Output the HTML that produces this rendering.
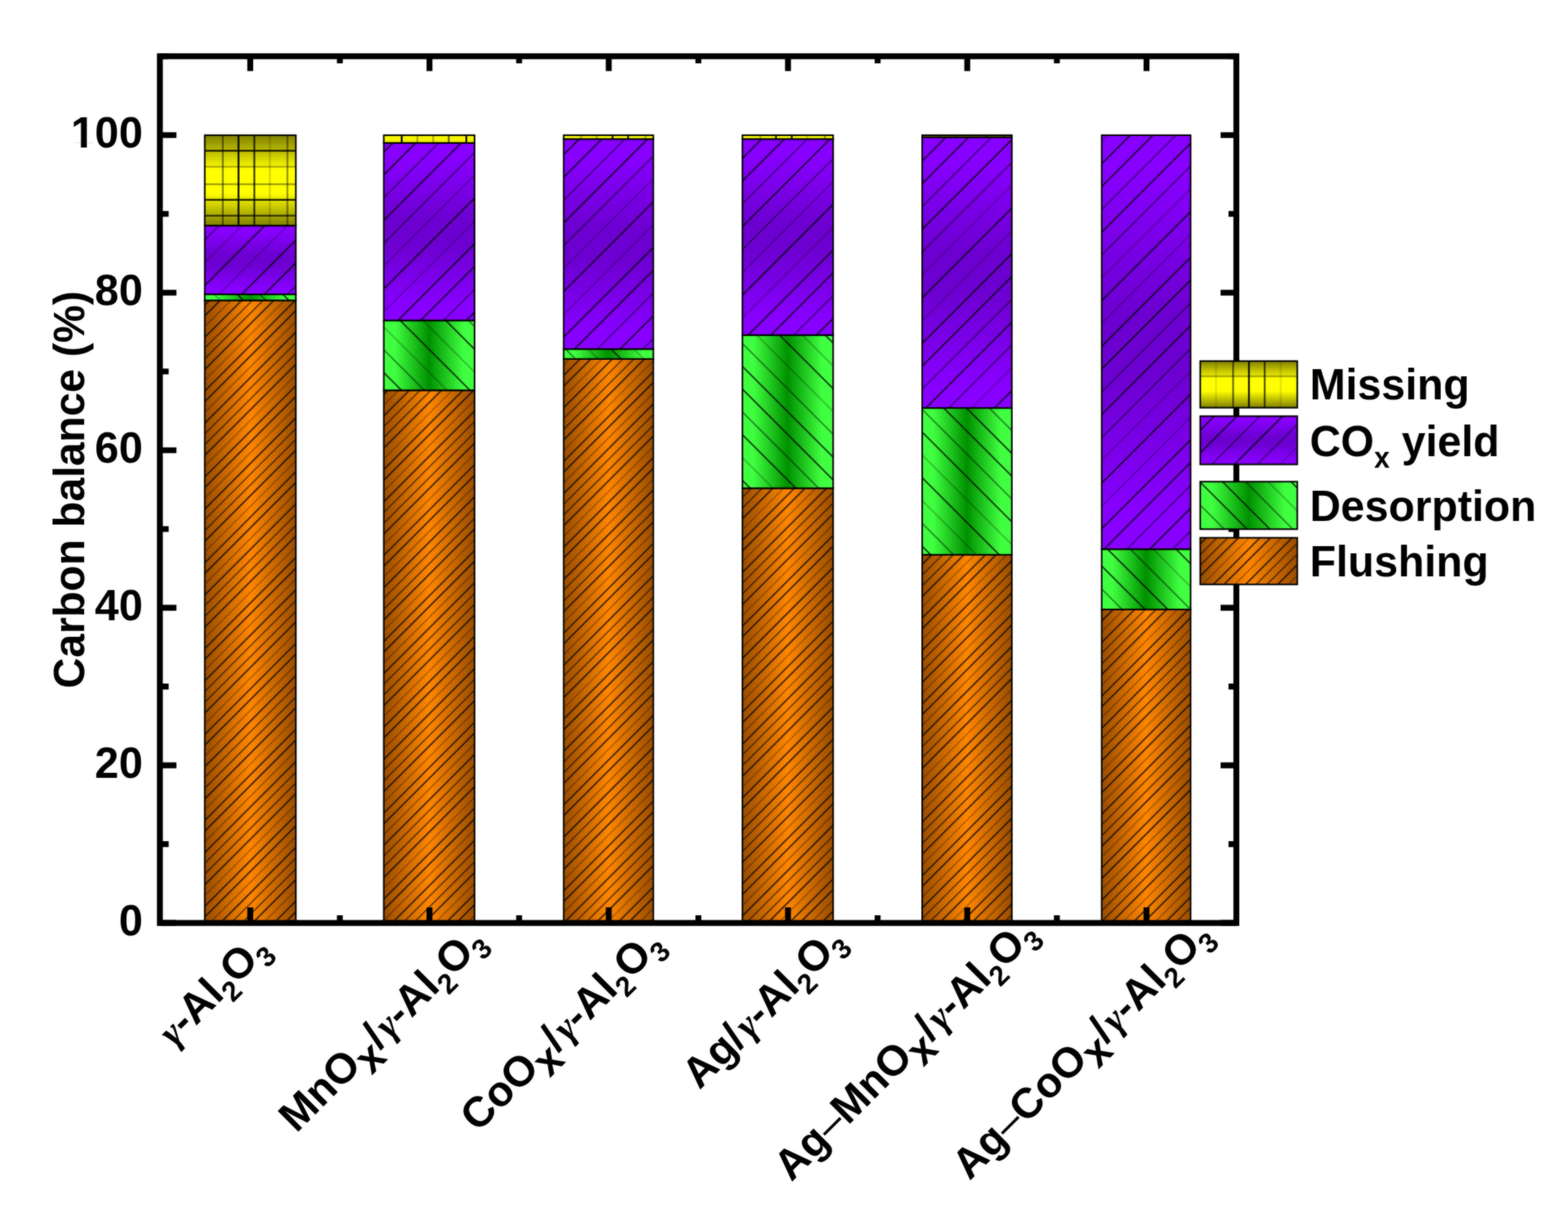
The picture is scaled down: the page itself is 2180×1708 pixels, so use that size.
<!DOCTYPE html>
<html lang="en"><head><meta charset="utf-8"><title>Carbon balance</title>
<style>html,body{margin:0;padding:0;background:#fff}body{width:2180px;height:1708px}svg{display:block}text{font-family:"Liberation Sans",sans-serif;font-weight:bold;fill:#000}.g{font-family:"Liberation Serif",serif;font-weight:bold;font-style:italic}.r{font-weight:normal}</style></head><body>
<svg width="2180" height="1708" viewBox="0 0 2180 1708">
<defs>
<filter id="soft" filterUnits="userSpaceOnUse" x="0" y="0" width="2180" height="1708" color-interpolation-filters="sRGB"><feGaussianBlur stdDeviation="0.9" result="b"/><feComposite in="b" in2="SourceGraphic" operator="arithmetic" k1="0" k2="0.50" k3="0.50" k4="0"/></filter>
<linearGradient id="gO" x1="0" y1="0" x2="1" y2="0"><stop offset="0" stop-color="#9a4d00"/><stop offset="0.5" stop-color="#ff8600"/><stop offset="1" stop-color="#9a4d00"/></linearGradient>
<linearGradient id="gG" x1="0" y1="0" x2="1" y2="0"><stop offset="0" stop-color="#40ff40"/><stop offset="0.12" stop-color="#40ff40"/><stop offset="0.5" stop-color="#009000"/><stop offset="0.88" stop-color="#40ff40"/><stop offset="1" stop-color="#40ff40"/></linearGradient>
<linearGradient id="gP" x1="0" y1="0" x2="0" y2="1"><stop offset="0" stop-color="#8800ff"/><stop offset="0.08" stop-color="#8800ff"/><stop offset="0.43" stop-color="#6c00d0"/><stop offset="0.57" stop-color="#6c00d0"/><stop offset="0.92" stop-color="#8800ff"/><stop offset="1" stop-color="#8800ff"/></linearGradient>
<linearGradient id="gY" x1="0" y1="0" x2="0" y2="1"><stop offset="0" stop-color="#808000"/><stop offset="0.38" stop-color="#ffff00"/><stop offset="0.64" stop-color="#ffff00"/><stop offset="1" stop-color="#808000"/></linearGradient>
<pattern id="hO" patternUnits="userSpaceOnUse" width="40" height="84.400" patternTransform="rotate(-45)"><rect x="0" y="4.400" width="40" height="1.75" fill="#000" fill-opacity="0.90"/><rect x="0" y="14.950" width="40" height="1.75" fill="#000" fill-opacity="0.35"/><rect x="0" y="25.500" width="40" height="1.75" fill="#000" fill-opacity="0.90"/><rect x="0" y="36.050" width="40" height="1.75" fill="#000" fill-opacity="0.60"/><rect x="0" y="46.600" width="40" height="1.75" fill="#000" fill-opacity="0.65"/><rect x="0" y="57.150" width="40" height="1.75" fill="#000" fill-opacity="0.90"/><rect x="0" y="67.700" width="40" height="1.75" fill="#000" fill-opacity="0.30"/><rect x="0" y="78.250" width="40" height="1.75" fill="#000" fill-opacity="0.85"/></pattern>
<pattern id="hP" patternUnits="userSpaceOnUse" width="40" height="179.322" patternTransform="rotate(-45)"><rect x="0" y="10.333" width="40" height="1.75" fill="#000" fill-opacity="0.90"/><rect x="0" y="32.748" width="40" height="1.75" fill="#000" fill-opacity="0.55"/><rect x="0" y="55.163" width="40" height="1.75" fill="#000" fill-opacity="0.90"/><rect x="0" y="77.578" width="40" height="1.75" fill="#000" fill-opacity="0.55"/><rect x="0" y="99.994" width="40" height="1.75" fill="#000" fill-opacity="0.30"/><rect x="0" y="122.409" width="40" height="1.75" fill="#000" fill-opacity="0.90"/><rect x="0" y="144.824" width="40" height="1.75" fill="#000" fill-opacity="0.30"/><rect x="0" y="167.240" width="40" height="1.75" fill="#000" fill-opacity="0.90"/></pattern>
<pattern id="hG" patternUnits="userSpaceOnUse" width="40" height="179.322" patternTransform="rotate(45)"><rect x="0" y="10.333" width="40" height="1.75" fill="#000" fill-opacity="0.90"/><rect x="0" y="32.748" width="40" height="1.75" fill="#000" fill-opacity="0.55"/><rect x="0" y="55.163" width="40" height="1.75" fill="#000" fill-opacity="0.90"/><rect x="0" y="77.578" width="40" height="1.75" fill="#000" fill-opacity="0.30"/><rect x="0" y="99.994" width="40" height="1.75" fill="#000" fill-opacity="0.90"/><rect x="0" y="122.409" width="40" height="1.75" fill="#000" fill-opacity="0.30"/><rect x="0" y="144.824" width="40" height="1.75" fill="#000" fill-opacity="0.55"/><rect x="0" y="167.240" width="40" height="1.75" fill="#000" fill-opacity="0.90"/></pattern>
</defs>
<g filter="url(#soft)">
<rect width="2180" height="1708" fill="#fff"/>
<g id="bars">
<rect x="284.70" y="417.50" width="126.60" height="865.20" fill="url(#gO)"/><rect x="284.70" y="417.50" width="126.60" height="865.20" fill="url(#hO)"/><rect x="284.70" y="417.50" width="126.60" height="865.20" fill="none" stroke="#000" stroke-width="2.20"/>
<rect x="284.70" y="409.00" width="126.60" height="8.50" fill="url(#gG)"/><rect x="284.70" y="409.00" width="126.60" height="8.50" fill="url(#hG)"/><rect x="284.70" y="409.00" width="126.60" height="8.50" fill="none" stroke="#000" stroke-width="2.20"/>
<rect x="284.70" y="313.50" width="126.60" height="95.50" fill="url(#gP)"/><rect x="284.70" y="313.50" width="126.60" height="95.50" fill="url(#hP)"/><rect x="284.70" y="313.50" width="126.60" height="95.50" fill="none" stroke="#000" stroke-width="2.20"/>
<rect x="284.70" y="187.90" width="126.60" height="125.60" fill="url(#gY)"/><rect x="308.60" y="187.90" width="2.4" height="125.60" fill="#000" fill-opacity="0.50"/><rect x="330.40" y="187.90" width="2.4" height="125.60" fill="#000" fill-opacity="1.00"/><rect x="352.40" y="187.90" width="2.4" height="125.60" fill="#000" fill-opacity="0.80"/><rect x="374.00" y="187.90" width="2.4" height="125.60" fill="#000" fill-opacity="0.18"/><rect x="398.40" y="187.90" width="2.4" height="125.60" fill="#000" fill-opacity="0.45"/><rect x="284.70" y="208.30" width="126.60" height="2.4" fill="#000" fill-opacity="0.90"/><rect x="284.70" y="230.50" width="126.60" height="2.4" fill="#000" fill-opacity="0.30"/><rect x="284.70" y="254.80" width="126.60" height="2.4" fill="#000" fill-opacity="0.40"/><rect x="284.70" y="276.50" width="126.60" height="2.4" fill="#000" fill-opacity="0.90"/><rect x="284.70" y="298.60" width="126.60" height="2.4" fill="#000" fill-opacity="0.70"/><rect x="284.70" y="187.90" width="126.60" height="125.60" fill="none" stroke="#000" stroke-width="2.20"/>
<rect x="533.60" y="542.40" width="126.20" height="740.30" fill="url(#gO)"/><rect x="533.60" y="542.40" width="126.20" height="740.30" fill="url(#hO)"/><rect x="533.60" y="542.40" width="126.20" height="740.30" fill="none" stroke="#000" stroke-width="2.20"/>
<rect x="533.60" y="445.30" width="126.20" height="97.10" fill="url(#gG)"/><rect x="533.60" y="445.30" width="126.20" height="97.10" fill="url(#hG)"/><rect x="533.60" y="445.30" width="126.20" height="97.10" fill="none" stroke="#000" stroke-width="2.20"/>
<rect x="533.60" y="198.60" width="126.20" height="246.70" fill="url(#gP)"/><rect x="533.60" y="198.60" width="126.20" height="246.70" fill="url(#hP)"/><rect x="533.60" y="198.60" width="126.20" height="246.70" fill="none" stroke="#000" stroke-width="2.20"/>
<rect x="533.60" y="187.90" width="126.20" height="10.70" fill="#f4f400"/><rect x="557.30" y="187.90" width="2.4" height="10.70" fill="#000" fill-opacity="1.00"/><rect x="579.10" y="187.90" width="2.4" height="10.70" fill="#000" fill-opacity="0.30"/><rect x="601.10" y="187.90" width="2.4" height="10.70" fill="#000" fill-opacity="0.30"/><rect x="622.70" y="187.90" width="2.4" height="10.70" fill="#000" fill-opacity="0.60"/><rect x="647.10" y="187.90" width="2.4" height="10.70" fill="#000" fill-opacity="1.00"/><rect x="533.60" y="187.90" width="126.20" height="10.70" fill="none" stroke="#000" stroke-width="2.20"/>
<rect x="783.70" y="498.90" width="124.60" height="783.80" fill="url(#gO)"/><rect x="783.70" y="498.90" width="124.60" height="783.80" fill="url(#hO)"/><rect x="783.70" y="498.90" width="124.60" height="783.80" fill="none" stroke="#000" stroke-width="2.20"/>
<rect x="783.70" y="485.10" width="124.60" height="13.80" fill="url(#gG)"/><rect x="783.70" y="485.10" width="124.60" height="13.80" fill="url(#hG)"/><rect x="783.70" y="485.10" width="124.60" height="13.80" fill="none" stroke="#000" stroke-width="2.20"/>
<rect x="783.70" y="193.20" width="124.60" height="291.90" fill="url(#gP)"/><rect x="783.70" y="193.20" width="124.60" height="291.90" fill="url(#hP)"/><rect x="783.70" y="193.20" width="124.60" height="291.90" fill="none" stroke="#000" stroke-width="2.20"/>
<rect x="783.70" y="187.90" width="124.60" height="5.30" fill="#f4f400"/><rect x="806.60" y="187.90" width="2.4" height="5.30" fill="#000" fill-opacity="0.30"/><rect x="828.40" y="187.90" width="2.4" height="5.30" fill="#000" fill-opacity="0.30"/><rect x="850.40" y="187.90" width="2.4" height="5.30" fill="#000" fill-opacity="0.90"/><rect x="872.00" y="187.90" width="2.4" height="5.30" fill="#000" fill-opacity="0.90"/><rect x="896.40" y="187.90" width="2.4" height="5.30" fill="#000" fill-opacity="0.30"/><rect x="783.70" y="187.90" width="124.60" height="5.30" fill="none" stroke="#000" stroke-width="2.20"/>
<rect x="1032.20" y="678.50" width="126.10" height="604.20" fill="url(#gO)"/><rect x="1032.20" y="678.50" width="126.10" height="604.20" fill="url(#hO)"/><rect x="1032.20" y="678.50" width="126.10" height="604.20" fill="none" stroke="#000" stroke-width="2.20"/>
<rect x="1032.20" y="465.70" width="126.10" height="212.80" fill="url(#gG)"/><rect x="1032.20" y="465.70" width="126.10" height="212.80" fill="url(#hG)"/><rect x="1032.20" y="465.70" width="126.10" height="212.80" fill="none" stroke="#000" stroke-width="2.20"/>
<rect x="1032.20" y="193.20" width="126.10" height="272.50" fill="url(#gP)"/><rect x="1032.20" y="193.20" width="126.10" height="272.50" fill="url(#hP)"/><rect x="1032.20" y="193.20" width="126.10" height="272.50" fill="none" stroke="#000" stroke-width="2.20"/>
<rect x="1032.20" y="187.90" width="126.10" height="5.30" fill="#f4f400"/><rect x="1055.85" y="187.90" width="2.4" height="5.30" fill="#000" fill-opacity="0.30"/><rect x="1077.65" y="187.90" width="2.4" height="5.30" fill="#000" fill-opacity="0.90"/><rect x="1099.65" y="187.90" width="2.4" height="5.30" fill="#000" fill-opacity="0.90"/><rect x="1121.25" y="187.90" width="2.4" height="5.30" fill="#000" fill-opacity="0.20"/><rect x="1145.65" y="187.90" width="2.4" height="5.30" fill="#000" fill-opacity="0.40"/><rect x="1032.20" y="187.90" width="126.10" height="5.30" fill="none" stroke="#000" stroke-width="2.20"/>
<rect x="1282.10" y="771.00" width="124.70" height="511.70" fill="url(#gO)"/><rect x="1282.10" y="771.00" width="124.70" height="511.70" fill="url(#hO)"/><rect x="1282.10" y="771.00" width="124.70" height="511.70" fill="none" stroke="#000" stroke-width="2.20"/>
<rect x="1282.10" y="567.00" width="124.70" height="204.00" fill="url(#gG)"/><rect x="1282.10" y="567.00" width="124.70" height="204.00" fill="url(#hG)"/><rect x="1282.10" y="567.00" width="124.70" height="204.00" fill="none" stroke="#000" stroke-width="2.20"/>
<rect x="1282.10" y="190.70" width="124.70" height="376.30" fill="url(#gP)"/><rect x="1282.10" y="190.70" width="124.70" height="376.30" fill="url(#hP)"/><rect x="1282.10" y="190.70" width="124.70" height="376.30" fill="none" stroke="#000" stroke-width="2.20"/>
<rect x="1282.10" y="187.90" width="124.70" height="2.80" fill="#a09800"/><rect x="1305.05" y="187.90" width="2.4" height="2.80" fill="#000" fill-opacity="0.50"/><rect x="1326.85" y="187.90" width="2.4" height="2.80" fill="#000" fill-opacity="0.50"/><rect x="1348.85" y="187.90" width="2.4" height="2.80" fill="#000" fill-opacity="0.20"/><rect x="1370.45" y="187.90" width="2.4" height="2.80" fill="#000" fill-opacity="0.70"/><rect x="1394.85" y="187.90" width="2.4" height="2.80" fill="#000" fill-opacity="0.70"/><rect x="1282.10" y="187.90" width="124.70" height="2.80" fill="none" stroke="#000" stroke-width="2.20"/>
<rect x="1531.70" y="847.00" width="123.60" height="435.70" fill="url(#gO)"/><rect x="1531.70" y="847.00" width="123.60" height="435.70" fill="url(#hO)"/><rect x="1531.70" y="847.00" width="123.60" height="435.70" fill="none" stroke="#000" stroke-width="2.20"/>
<rect x="1531.70" y="763.20" width="123.60" height="83.80" fill="url(#gG)"/><rect x="1531.70" y="763.20" width="123.60" height="83.80" fill="url(#hG)"/><rect x="1531.70" y="763.20" width="123.60" height="83.80" fill="none" stroke="#000" stroke-width="2.20"/>
<rect x="1531.70" y="187.90" width="123.60" height="575.30" fill="url(#gP)"/><rect x="1531.70" y="187.90" width="123.60" height="575.30" fill="url(#hP)"/><rect x="1531.70" y="187.90" width="123.60" height="575.30" fill="none" stroke="#000" stroke-width="2.20"/>
</g>
<g id="axes" fill="none" stroke="#000" stroke-width="8.20">
<rect x="222.30" y="78.20" width="1496.60" height="1204.50"/>
<path d="M222.30 1282.70h23.00M1718.90 1282.70h-21.90M222.30 1173.20h12.20M1718.90 1173.20h-10.90M222.30 1063.71h23.00M1718.90 1063.71h-21.90M222.30 954.22h12.20M1718.90 954.22h-10.90M222.30 844.72h23.00M1718.90 844.72h-21.90M222.30 735.23h12.20M1718.90 735.23h-10.90M222.30 625.73h23.00M1718.90 625.73h-21.90M222.30 516.24h12.20M1718.90 516.24h-10.90M222.30 406.74h23.00M1718.90 406.74h-21.90M222.30 297.25h12.20M1718.90 297.25h-10.90M222.30 187.75h23.00M1718.90 187.75h-21.90M222.30 78.25h12.20M1718.90 78.25h-10.90M347.90 1282.70v-21.70M347.90 78.20v20.50M472.51 1282.70v-10.60M472.51 78.20v9.90M597.12 1282.70v-21.70M597.12 78.20v20.50M721.73 1282.70v-10.60M721.73 78.20v9.90M846.34 1282.70v-21.70M846.34 78.20v20.50M970.95 1282.70v-10.60M970.95 78.20v9.90M1095.56 1282.70v-21.70M1095.56 78.20v20.50M1220.17 1282.70v-10.60M1220.17 78.20v9.90M1344.78 1282.70v-21.70M1344.78 78.20v20.50M1469.39 1282.70v-10.60M1469.39 78.20v9.90M1594.00 1282.70v-21.70M1594.00 78.20v20.50"/>
</g>
<g id="legend">
<rect x="1668.70" y="501.80" width="134.90" height="64.80" fill="url(#gY)"/><rect x="1689.50" y="501.80" width="2.4" height="64.80" fill="#000" fill-opacity="0.12"/><rect x="1713.20" y="501.80" width="2.4" height="64.80" fill="#000" fill-opacity="0.60"/><rect x="1735.20" y="501.80" width="2.4" height="64.80" fill="#000" fill-opacity="0.95"/><rect x="1757.10" y="501.80" width="2.4" height="64.80" fill="#000" fill-opacity="0.70"/><rect x="1779.40" y="501.80" width="2.4" height="64.80" fill="#000" fill-opacity="0.12"/><rect x="1668.70" y="521.70" width="134.90" height="2.4" fill="#000" fill-opacity="0.30"/><rect x="1668.70" y="501.80" width="134.90" height="64.80" fill="none" stroke="#000" stroke-width="2.20"/>
<text transform="translate(1821 554.6) scale(1 1.025)" font-size="59.7">Missing</text>
<rect x="1668.70" y="578.40" width="134.90" height="67.00" fill="url(#gP)"/><rect x="1668.70" y="578.40" width="134.90" height="67.00" fill="url(#hP)"/><rect x="1668.70" y="578.40" width="134.90" height="67.00" fill="none" stroke="#000" stroke-width="2.20"/>
<text transform="translate(1821 633.8) scale(1 1.025)" font-size="59.7">CO<tspan font-size="39" dy="16">x</tspan><tspan dy="-16"> yield</tspan></text>
<rect x="1668.70" y="669.40" width="134.90" height="66.00" fill="url(#gG)"/><rect x="1668.70" y="669.40" width="134.90" height="66.00" fill="url(#hG)"/><rect x="1668.70" y="669.40" width="134.90" height="66.00" fill="none" stroke="#000" stroke-width="2.20"/>
<text transform="translate(1821 724.2) scale(1 1.025)" font-size="59.7">Desorption</text>
<rect x="1668.70" y="747.40" width="134.90" height="64.80" fill="url(#gO)"/><rect x="1668.70" y="747.40" width="134.90" height="64.80" fill="url(#hO)"/><rect x="1668.70" y="747.40" width="134.90" height="64.80" fill="none" stroke="#000" stroke-width="2.20"/>
<text transform="translate(1821 801.0) scale(1 1.025)" font-size="59.7">Flushing</text>
</g>
<g id="ylabels" font-size="60" text-anchor="end">
<g transform="translate(198.5 1300.4) scale(1 1.03)"><text>0</text></g>
<g transform="translate(198.5 1081.4) scale(1 1.03)"><text>20</text></g>
<g transform="translate(198.5 862.4) scale(1 1.03)"><text>40</text></g>
<g transform="translate(198.5 643.4) scale(1 1.03)"><text>60</text></g>
<g transform="translate(198.5 424.4) scale(1 1.03)"><text>80</text></g>
<g transform="translate(198.5 205.4) scale(1 1.03)"><text>100</text><path d="M-99.5 -6.6h13.5v8.6h-13.5zM-77.75 -6.6h11.5v8.6h-11.5z" fill="#fff"/></g>
</g>
<text font-size="59.2" text-anchor="middle" transform="translate(117.3 680.5) rotate(-90) scale(1 1.025)">Carbon balance (%)</text>
<g id="xlabels" font-size="59" text-anchor="end">
<text transform="translate(377.0 1321.3) rotate(-45)"><tspan class="g" font-size="54">γ</tspan>-Al<tspan font-size="39" dy="14">2</tspan><tspan dy="-14">O</tspan><tspan font-size="39" dy="14">3</tspan></text>
<text transform="translate(677.0 1310.6) rotate(-45)">MnO<tspan dy="17">x</tspan><tspan dy="-17">/</tspan><tspan class="g" font-size="54" dx="4">γ</tspan>-Al<tspan font-size="39" dy="14">2</tspan><tspan dy="-14">O</tspan><tspan font-size="39" dy="14">3</tspan></text>
<text transform="translate(924.6 1314.4) rotate(-45)">CoO<tspan dy="17">x</tspan><tspan dy="-17">/</tspan><tspan class="g" font-size="54" dx="4">γ</tspan>-Al<tspan font-size="39" dy="14">2</tspan><tspan dy="-14">O</tspan><tspan font-size="39" dy="14">3</tspan></text>
<text transform="translate(1177.2 1310.6) rotate(-45)">Ag/<tspan class="g" font-size="54" dx="4">γ</tspan>-Al<tspan font-size="39" dy="14">2</tspan><tspan dy="-14">O</tspan><tspan font-size="39" dy="14">3</tspan></text>
<text transform="translate(1444.1 1299.4) rotate(-45)">Ag<tspan class="r">–</tspan>MnO<tspan dy="17">x</tspan><tspan dy="-17">/</tspan><tspan class="g" font-size="54" dx="4">γ</tspan>-Al<tspan font-size="39" dy="14">2</tspan><tspan dy="-14">O</tspan><tspan font-size="39" dy="14">3</tspan></text>
<text transform="translate(1687.2 1302.3) rotate(-45)">Ag<tspan class="r">–</tspan>CoO<tspan dy="17">x</tspan><tspan dy="-17">/</tspan><tspan class="g" font-size="54" dx="4">γ</tspan>-Al<tspan font-size="39" dy="14">2</tspan><tspan dy="-14">O</tspan><tspan font-size="39" dy="14">3</tspan></text>
</g>
</g>
</svg></body></html>
